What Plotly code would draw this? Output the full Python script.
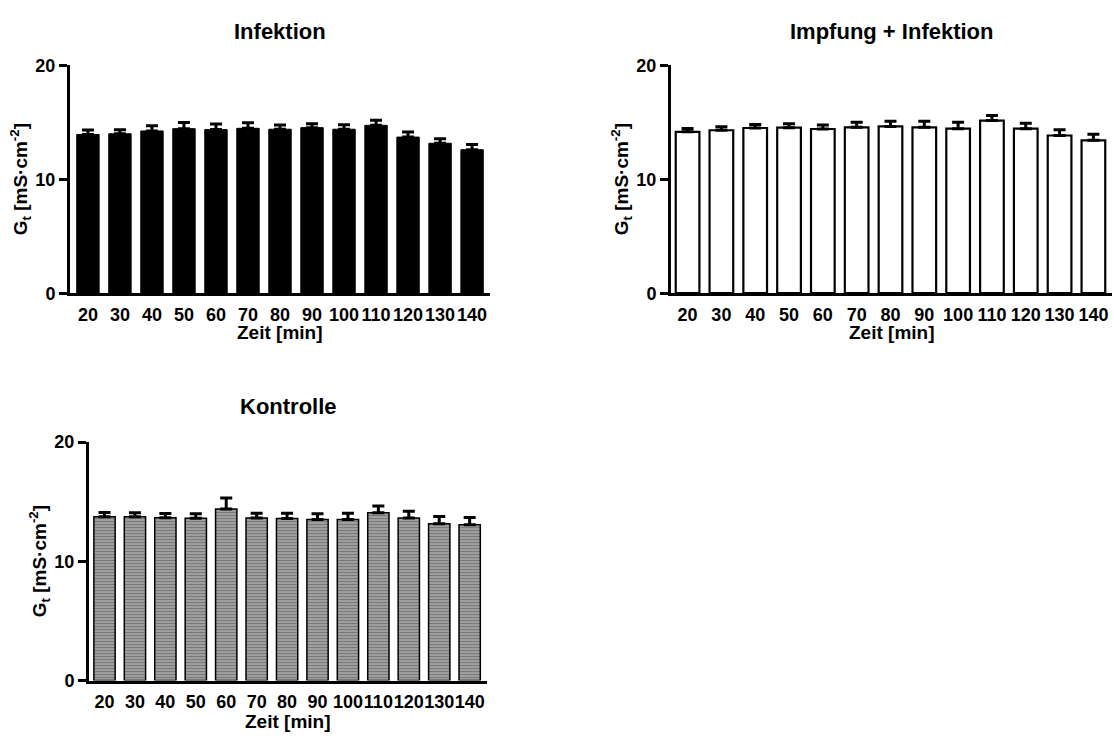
import plotly.graph_objects as go

# Time points (min)
zeit = ["20", "30", "40", "50", "60", "70", "80", "90", "100", "110", "120", "130", "140"]

# Transepithelial conductance G_t, mean and SEM (mS/cm^2)
infektion_mean = [13.94, 14.00, 14.25, 14.45, 14.37, 14.48, 14.40, 14.54, 14.40, 14.74, 13.71, 13.17, 12.60]
infektion_sem = [0.40, 0.35, 0.45, 0.55, 0.50, 0.50, 0.38, 0.35, 0.40, 0.45, 0.45, 0.40, 0.45]

impfung_mean = [14.17, 14.31, 14.51, 14.54, 14.42, 14.57, 14.65, 14.57, 14.45, 15.16, 14.45, 13.85, 13.43]
impfung_sem = [0.30, 0.30, 0.30, 0.35, 0.36, 0.44, 0.44, 0.52, 0.56, 0.44, 0.47, 0.50, 0.52]

kontrolle_mean = [13.74, 13.74, 13.66, 13.61, 14.39, 13.63, 13.58, 13.50, 13.50, 14.07, 13.63, 13.14, 13.06]
kontrolle_sem = [0.35, 0.33, 0.35, 0.38, 0.92, 0.40, 0.45, 0.48, 0.53, 0.56, 0.56, 0.62, 0.62]

W, H = 1114, 745
FONT = "Liberation Sans, Arial, Helvetica, sans-serif"

# panel geometry in pixels: x extent, y extent, category range, title and x-title rows
panels = [
    dict(name="Infektion", x0=70, x1=490, yt=57, yb=291, xr=[-0.56, 12.56], ty=22, xty=331),
    dict(name="Impfung + Infektion", x0=671, x1=1112, yt=57, yb=291, xr=[-0.49, 12.55], ty=22, xty=331),
    dict(name="Kontrolle", x0=89, x1=487, yt=444, yb=689, xr=[-0.51, 12.57], ty=407, xty=731),
]

fig = go.Figure()


def err_style(sem):
    return dict(type="data", symmetric=False, array=sem, arrayminus=[0] * len(sem),
                color="black", thickness=3, width=6)


fig.add_trace(go.Bar(
    x=zeit, y=infektion_mean, width=0.7,
    marker=dict(color="black", line=dict(color="black", width=1)),
    error_y=err_style(infektion_sem), xaxis="x", yaxis="y", showlegend=False))

fig.add_trace(go.Bar(
    x=zeit, y=impfung_mean, width=0.7,
    marker=dict(color="white", line=dict(color="black", width=2.2)),
    error_y=err_style(impfung_sem), xaxis="x2", yaxis="y2", showlegend=False))

fig.add_trace(go.Bar(
    x=zeit, y=kontrolle_mean, width=0.7,
    marker=dict(color="white", line=dict(color="black", width=1.5),
                pattern=dict(shape="-", fgcolor="#1e1e1e", bgcolor="#d0d0d0",
                             size=3, solidity=0.7, fillmode="overlay")),
    error_y=err_style(kontrolle_sem), xaxis="x3", yaxis="y3", showlegend=False))

annotations = []
layout_axes = {}
for i, p in enumerate(panels):
    suffix = "" if i == 0 else str(i + 1)
    xd = [p["x0"] / W, p["x1"] / W]
    yd = [1 - p["yb"] / H, 1 - p["yt"] / H]
    layout_axes["xaxis" + suffix] = dict(
        domain=xd, anchor="y" + suffix, type="category", range=p["xr"],
        showline=True, linecolor="black", linewidth=3, ticks="", tickangle=0,
        showgrid=False, zeroline=False, ticklabelstandoff=3,
        tickfont=dict(family=FONT, size=18, color="black", weight="bold"))
    layout_axes["yaxis" + suffix] = dict(
        domain=yd, anchor="x" + suffix, range=[0, 20], tickvals=[0, 10, 20],
        showline=True, linecolor="black", linewidth=3, ticks="outside",
        ticklen=8, tickwidth=3, tickcolor="black", showgrid=False, zeroline=False,
        tickfont=dict(family=FONT, size=18, color="black", weight="bold"))
    cx = (p["x0"] + p["x1"]) / 2 / W
    # subplot title
    annotations.append(dict(
        text=p["name"], x=cx, y=1 - p["ty"] / H, xref="paper", yref="paper",
        xanchor="center", yanchor="middle", showarrow=False,
        font=dict(family=FONT, size=22, color="black", weight="bold")))
    # x axis title
    annotations.append(dict(
        text="Zeit [min]", x=cx, y=1 - p["xty"] / H, xref="paper", yref="paper",
        xanchor="center", yanchor="middle", showarrow=False,
        font=dict(family=FONT, size=19, color="black", weight="bold")))
    # y axis title
    annotations.append(dict(
        text="G<sub>t</sub> [mS·cm<sup>-2</sup>]", x=(p["x0"] - 50) / W,
        y=1 - (p["yt"] + p["yb"]) / 2 / H, xref="paper", yref="paper",
        xanchor="center", yanchor="middle", showarrow=False, textangle=-90,
        font=dict(family=FONT, size=19, color="black", weight="bold")))

fig.update_layout(
    width=W, height=H, margin=dict(l=0, r=0, t=0, b=0),
    paper_bgcolor="white", plot_bgcolor="white",
    font=dict(family=FONT, color="black", weight="bold"),
    annotations=annotations, **layout_axes)

fig.write_html("out.html")
